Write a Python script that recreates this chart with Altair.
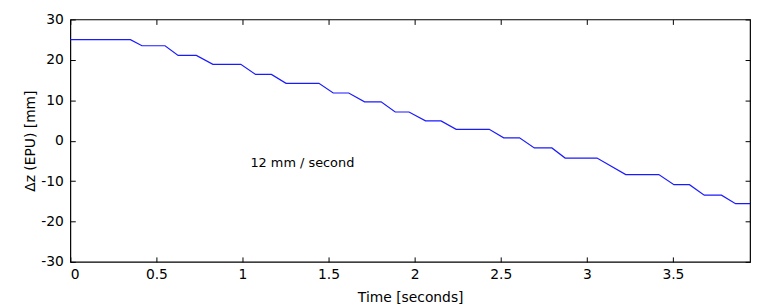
import altair as alt
import pandas as pd

time_s = [0.0, 0.349, 0.416, 0.55, 0.626, 0.732, 0.828, 0.99, 1.076, 1.168, 1.253,
          1.444, 1.527, 1.617, 1.709, 1.805, 1.887, 1.967, 2.063, 2.153, 2.241,
          2.433, 2.517, 2.609, 2.695, 2.797, 2.874, 3.059, 3.226, 3.418, 3.506,
          3.596, 3.682, 3.782, 3.864, 3.948]
dz_mm = [25.0, 25.0, 23.5, 23.5, 21.1, 21.1, 18.9, 18.9, 16.4, 16.4, 14.2,
         14.2, 11.8, 11.8, 9.6, 9.6, 7.1, 7.1, 4.9, 4.9, 2.8,
         2.8, 0.7, 0.7, -1.8, -1.8, -4.3, -4.3, -8.4, -8.4, -10.9,
         -10.9, -13.5, -13.5, -15.6, -15.6]

note_text = ["12 mm / second"]
note_x = [1.046]
note_y = [-5.5]

x_ticks = [0, 0.5, 1, 1.5, 2, 2.5, 3, 3.5]
y_ticks = [-30, -20, -10, 0, 10, 20, 30]

df = pd.DataFrame({"t": time_s, "dz": dz_mm})
note = pd.DataFrame({"t": note_x, "dz": note_y, "label": note_text})

FONT = "DejaVu Sans"
xscale = alt.Scale(domain=[0, 3.948], nice=False, zero=False)
yscale = alt.Scale(domain=[-30, 30], nice=False)

HYPHEN = "datum.value < 0 ? '-' + format(abs(datum.value), '~g') : format(datum.value, '~g')"

common_axis = dict(grid=False, domain=False, tickSize=5, offset=-5, tickColor="black",
                   tickWidth=1, labelFont=FONT, labelFontSize=14, labelColor="black",
                   titleFont=FONT, titleFontSize=14, titleColor="black",
                   titleFontWeight="normal")

line = alt.Chart(df).mark_line(color="#1a1aff", strokeWidth=1.2, interpolate="linear").encode(
    x=alt.X("t:Q", scale=xscale,
            axis=alt.Axis(orient="bottom", values=x_ticks, labelExpr=HYPHEN, title="Time [seconds]",
                          labelPadding=6, titlePadding=9, **common_axis)),
    y=alt.Y("dz:Q", scale=yscale,
            axis=alt.Axis(orient="left", values=y_ticks, labelExpr=HYPHEN, title="Δz (EPU) [mm]",
                          labelPadding=7, titlePadding=3, **common_axis)),
)

text = alt.Chart(note).mark_text(align="left", baseline="middle", font=FONT, fontSize=13,
                                 color="black").encode(
    x=alt.X("t:Q", scale=xscale,
            axis=alt.Axis(orient="top", values=x_ticks, labels=False, title=None, **common_axis)),
    y=alt.Y("dz:Q", scale=yscale,
            axis=alt.Axis(orient="right", values=y_ticks, labels=False, title=None, **common_axis)),
    text="label:N",
)

chart = alt.layer(line, text).properties(
    width=687, height=245,
    autosize=alt.AutoSizeParams(type="none"),
    padding={"left": 63, "top": 10, "right": 5, "bottom": 42},
    background="white",
).configure_view(stroke="black", strokeWidth=1.2)

chart.save("out.html", embed_options={"renderer": "svg", "actions": False})
